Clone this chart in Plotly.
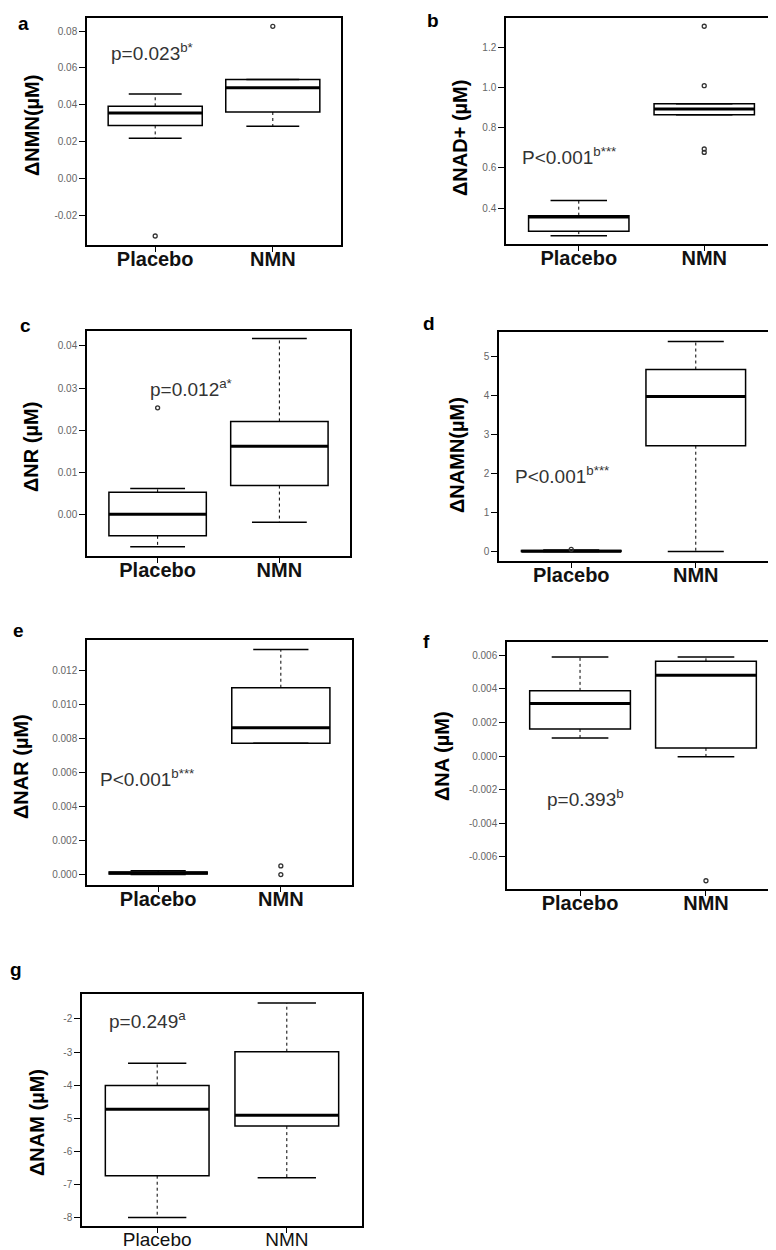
import plotly.graph_objects as go

W, H = 776, 1250
groups = ["Placebo", "NMN"]

# ---------------- data ----------------
# a: ΔNMN
a_lower = [0.0217, 0.0282]
a_q1 = [0.0287, 0.0360]
a_median = [0.0354, 0.0492]
a_q3 = [0.0391, 0.0537]
a_upper = [0.0458, 0.0537]
a_out_group = ["Placebo", "NMN"]
a_out_value = [-0.0314, 0.0826]
a_ticks = [-0.02, 0.0, 0.02, 0.04, 0.06, 0.08]
a_tick_labels = ["-0.02", "0.00", "0.02", "0.04", "0.06", "0.08"]

# b: ΔNAD+
b_lower = [0.262, 0.864]
b_q1 = [0.285, 0.864]
b_median = [0.355, 0.893]
b_q3 = [0.362, 0.919]
b_upper = [0.438, 0.919]
b_out_group = ["NMN", "NMN", "NMN", "NMN"]
b_out_value = [1.305, 1.009, 0.694, 0.677]
b_ticks = [0.4, 0.6, 0.8, 1.0, 1.2]
b_tick_labels = ["0.4", "0.6", "0.8", "1.0", "1.2"]

# c: ΔNR
c_lower = [-0.0076, -0.0018]
c_q1 = [-0.0050, 0.0069]
c_median = [0.0001, 0.0162]
c_q3 = [0.0053, 0.0221]
c_upper = [0.0062, 0.0417]
c_out_group = ["Placebo"]
c_out_value = [0.0253]
c_ticks = [0.0, 0.01, 0.02, 0.03, 0.04]
c_tick_labels = ["0.00", "0.01", "0.02", "0.03", "0.04"]

# d: ΔNAMN
d_lower = [0.0, 0.0]
d_q1 = [0.0, 2.71]
d_median = [0.01, 3.97]
d_q3 = [0.03, 4.66]
d_upper = [0.04, 5.38]
d_out_group = ["Placebo"]
d_out_value = [0.06]
d_ticks = [0, 1, 2, 3, 4, 5]
d_tick_labels = ["0", "1", "2", "3", "4", "5"]

# e: ΔNAR
e_lower = [0.0, 0.00771]
e_q1 = [0.00003, 0.00771]
e_median = [0.0001, 0.00861]
e_q3 = [0.00015, 0.01096]
e_upper = [0.00022, 0.01321]
e_out_group = ["NMN", "NMN"]
e_out_value = [0.00051, 0.0]
e_ticks = [0.0, 0.002, 0.004, 0.006, 0.008, 0.010, 0.012]
e_tick_labels = ["0.000", "0.002", "0.004", "0.006", "0.008", "0.010", "0.012"]

# f: ΔNA
f_lower = [0.00108, -0.00005]
f_q1 = [0.00161, 0.00048]
f_median = [0.00313, 0.00481]
f_q3 = [0.00388, 0.00564]
f_upper = [0.0059, 0.0059]
f_out_group = ["NMN"]
f_out_value = [-0.00743]
f_ticks = [-0.006, -0.004, -0.002, 0.0, 0.002, 0.004, 0.006]
f_tick_labels = ["-0.006", "-0.004", "-0.002", "0.000", "0.002", "0.004", "0.006"]

# g: ΔNAM
g_lower = [-8.0, -6.80]
g_q1 = [-6.74, -5.24]
g_median = [-4.73, -4.91]
g_q3 = [-4.01, -2.99]
g_upper = [-3.34, -1.52]
g_out_group = []
g_out_value = []
g_ticks = [-8, -7, -6, -5, -4, -3, -2]
g_tick_labels = ["-8", "-7", "-6", "-5", "-4", "-3", "-2"]

# ---------------- layout of panels (pixels) ----------------
panels = [
    dict(key="a", lower=a_lower, q1=a_q1, med=a_median, q3=a_q3, upper=a_upper,
         og=a_out_group, ov=a_out_value, ticks=a_ticks, tlab=a_tick_labels,
         box=(79, 333, 10, 237), yr=(-0.0363, 0.0871),
         title="ΔNMN(µM)", tpos=(24, 118), letter=(15, 15),
         ptext="p=0.023<sup>b*</sup>", ppos=(-0.39, 0.0686), xbold=True),
    dict(key="b", lower=b_lower, q1=b_q1, med=b_median, q3=b_q3, upper=b_upper,
         og=b_out_group, ov=b_out_value, ticks=b_ticks, tlab=b_tick_labels,
         box=(498, 769, 10, 236), yr=(0.221, 1.346),
         title="ΔNAD+ (µM)", tpos=(452, 130), letter=(425, 13),
         ptext="P<0.001<sup>b***</sup>", ppos=(-0.47, 0.661), xbold=True),
    dict(key="c", lower=c_lower, q1=c_q1, med=c_median, q3=c_q3, upper=c_upper,
         og=c_out_group, ov=c_out_value, ticks=c_ticks, tlab=c_tick_labels,
         box=(79, 342, 323, 548), yr=(-0.00977, 0.0435),
         title="ΔNR (µM)", tpos=(23, 439), letter=(17, 317),
         ptext="p=0.012<sup>a*</sup>", ppos=(-0.08, 0.0301), xbold=True),
    dict(key="d", lower=d_lower, q1=d_q1, med=d_median, q3=d_q3, upper=d_upper,
         og=d_out_group, ov=d_out_value, ticks=d_ticks, tlab=d_tick_labels,
         box=(491, 760, 324, 553), yr=(-0.24, 5.62),
         title="ΔNAMN(µM)", tpos=(449, 447), letter=(421, 315),
         ptext="P<0.001<sup>b***</sup>", ppos=(-0.47, 1.96), xbold=True),
    dict(key="e", lower=e_lower, q1=e_q1, med=e_median, q3=e_q3, upper=e_upper,
         og=e_out_group, ov=e_out_value, ticks=e_ticks, tlab=e_tick_labels,
         box=(79, 344, 632, 877), yr=(-0.00061, 0.01376),
         title="ΔNAR (µM)", tpos=(13, 759), letter=(10, 623),
         ptext="P<0.001<sup>b***</sup>", ppos=(-0.49, 0.00566), xbold=True),
    dict(key="f", lower=f_lower, q1=f_q1, med=f_median, q3=f_q3, upper=f_upper,
         og=f_out_group, ov=f_out_value, ticks=f_ticks, tlab=f_tick_labels,
         box=(499, 771, 634, 881), yr=(-0.00792, 0.00679),
         title="ΔNA (µM)", tpos=(434, 748), letter=(418, 633),
         ptext="p=0.393<sup>b</sup>", ppos=(-0.28, -0.00251), xbold=True),
    dict(key="g", lower=g_lower, q1=g_q1, med=g_median, q3=g_q3, upper=g_upper,
         og=g_out_group, ov=g_out_value, ticks=g_ticks, tlab=g_tick_labels,
         box=(74, 354, 986, 1218), yr=(-8.26, -1.245),
         title="ΔNAM (µM)", tpos=(29, 1115), letter=(8, 962),
         ptext="p=0.249<sup>a</sup>", ppos=(-0.39, -2.03), xbold=False),
]

XR = [-0.58, 1.58]
BOXW = 0.8
CAPW = 0.45
FONT = "Arial, Liberation Sans, sans-serif"

fig = go.Figure()
layout = dict(
    width=W, height=H, margin=dict(l=0, r=0, t=0, b=0),
    paper_bgcolor="white", plot_bgcolor="white", showlegend=False,
    font=dict(family=FONT, color="black"),
)
annotations = []

for i, p in enumerate(panels, start=1):
    xa = "x" if i == 1 else f"x{i}"
    ya = "y" if i == 1 else f"y{i}"
    L, R, T, B = p["box"]
    pos = list(range(len(groups)))

    # boxes (whiskers drawn separately in R style)
    for j in pos:
        fig.add_trace(go.Box(
            x=[j], q1=[p["q1"][j]], median=[p["med"][j]], q3=[p["q3"][j]],
            lowerfence=[p["q1"][j]], upperfence=[p["q3"][j]],
            width=BOXW, fillcolor="white", line=dict(color="black", width=1.5),
            whiskerwidth=0, xaxis=xa, yaxis=ya, hoverinfo="skip",
        ))
        # dotted whiskers
        fig.add_trace(go.Scatter(
            x=[j, j, None, j, j],
            y=[p["q3"][j], p["upper"][j], None, p["q1"][j], p["lower"][j]],
            mode="lines", line=dict(color="black", width=1, dash="dot"),
            xaxis=xa, yaxis=ya, hoverinfo="skip",
        ))
        # caps
        fig.add_trace(go.Scatter(
            x=[j - CAPW / 2, j + CAPW / 2, None, j - CAPW / 2, j + CAPW / 2],
            y=[p["upper"][j], p["upper"][j], None, p["lower"][j], p["lower"][j]],
            mode="lines", line=dict(color="black", width=1.5),
            xaxis=xa, yaxis=ya, hoverinfo="skip",
        ))
        # thick median
        fig.add_trace(go.Scatter(
            x=[j - BOXW / 2, j + BOXW / 2], y=[p["med"][j], p["med"][j]],
            mode="lines", line=dict(color="black", width=3),
            xaxis=xa, yaxis=ya, hoverinfo="skip",
        ))
    # outliers
    if p["ov"]:
        fig.add_trace(go.Scatter(
            x=[groups.index(g) for g in p["og"]], y=p["ov"], mode="markers",
            marker=dict(symbol="circle-open", size=4, color="#333",
                        line=dict(width=1.3, color="#333")),
            xaxis=xa, yaxis=ya, hoverinfo="skip",
        ))

    xkey = "xaxis" if i == 1 else f"xaxis{i}"
    ykey = "yaxis" if i == 1 else f"yaxis{i}"
    layout[xkey] = dict(
        domain=[L / W, R / W], anchor=ya, range=XR,
        tickmode="array", tickvals=pos, ticktext=groups,
        ticks="outside", ticklen=5, tickcolor="black", tickwidth=1,
        showline=True, linecolor="black", linewidth=1.5, mirror=True,
        showgrid=False, zeroline=False, ticklabelstandoff=-10,
        tickfont=dict(size=20 if p["xbold"] else 19, family=FONT, color="#111",
                      weight="bold" if p["xbold"] else "normal"),
    )
    layout[ykey] = dict(
        domain=[1 - B / H, 1 - T / H], anchor=xa, range=list(p["yr"]),
        tickmode="array", tickvals=p["ticks"], ticktext=p["tlab"],
        ticks="outside", ticklen=6, tickcolor="black", tickwidth=1,
        showline=True, linecolor="black", linewidth=1.5, mirror=True,
        showgrid=False, zeroline=False,
        tickfont=dict(size=10, family=FONT, color="#666"),
    )
    # y title
    annotations.append(dict(
        text=p["title"], xref="paper", yref="paper",
        x=p["tpos"][0] / W, y=1 - p["tpos"][1] / H, xanchor="center", yanchor="middle",
        textangle=-90, showarrow=False,
        font=dict(size=20, family=FONT, color="black", weight="bold"),
    ))
    # panel letter
    annotations.append(dict(
        text=p["key"], xref="paper", yref="paper",
        x=p["letter"][0] / W, y=1 - p["letter"][1] / H, xanchor="center", yanchor="middle",
        showarrow=False, font=dict(size=19, family=FONT, color="black", weight="bold"),
    ))
    # p-value text
    annotations.append(dict(
        text=p["ptext"], xref=xa, yref=ya, x=p["ppos"][0], y=p["ppos"][1],
        xanchor="left", yanchor="middle", showarrow=False,
        font=dict(size=19, family=FONT, color="#333"),
    ))

layout["annotations"] = annotations
fig.update_layout(**layout)
fig.write_html("out.html")
